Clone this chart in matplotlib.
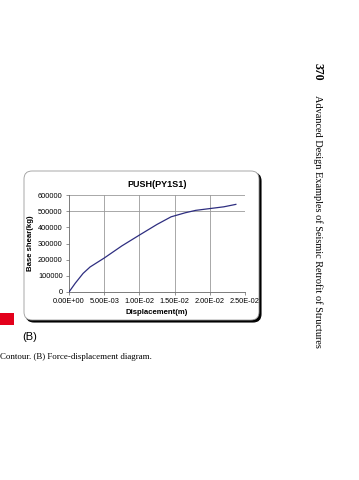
import matplotlib
matplotlib.use("Agg")
import matplotlib.pyplot as plt
from matplotlib.patches import FancyBboxPatch, Rectangle

# Data
disp = [0, 0.0009, 0.002, 0.003, 0.005, 0.0075, 0.010, 0.0125, 0.0145, 0.0165, 0.018, 0.020, 0.022, 0.0237]
shear = [0, 55000, 115000, 155000, 210000, 285000, 352000, 418000, 465000, 490000, 505000, 516000, 527000, 542000]
xticks = [0, 0.005, 0.010, 0.015, 0.020, 0.025]
xticklabels = ["0.00E+00", "5.00E-03", "1.00E-02", "1.50E-02", "2.00E-02", "2.50E-02"]
yticks = [0, 100000, 200000, 300000, 400000, 500000, 600000]
yticklabels = ["0", "100000", "200000", "300000", "400000", "500000", "600000"]
hgrid = [500000, 600000]

W, H = 359, 480
fig = plt.figure(figsize=(W / 100, H / 100), dpi=100)
sans = ["Liberation Sans", "DejaVu Sans"]
serif = ["Liberation Serif", "DejaVu Serif"]

# chart box with shadow (inches coordinates)
bx0, by_top, bx1, by_bot = 24, 171, 259, 320
shadow = FancyBboxPatch(((bx0 + 2) / 100, (H - by_bot - 2) / 100), (bx1 - bx0) / 100, (by_bot - by_top) / 100,
                        boxstyle="round,pad=0,rounding_size=0.08", transform=fig.dpi_scale_trans,
                        facecolor="black", edgecolor="black", linewidth=0.8, zorder=0)
box = FancyBboxPatch((bx0 / 100, (H - by_bot) / 100), (bx1 - bx0) / 100, (by_bot - by_top) / 100,
                     boxstyle="round,pad=0,rounding_size=0.08", transform=fig.dpi_scale_trans,
                     facecolor="white", edgecolor="#9a9a9a", linewidth=0.6, zorder=0.5)
fig.add_artist(shadow)
fig.add_artist(box)

# axes
left, right, bottom, top = 69, 245, 292, 195
ax = fig.add_axes([left / W, 1 - bottom / H, (right - left) / W, (bottom - top) / H])
ax.set_zorder(2)
ax.patch.set_alpha(0)
ax.set_xlim(0, 0.025)
ax.set_ylim(0, 600000)
for xv in xticks[1:]:
    ax.axvline(xv, color="#9a9a9a", lw=0.6, zorder=1)
for yv in hgrid:
    ax.axhline(yv, color="#9a9a9a", lw=0.6, zorder=1)
ax.plot(disp, shear, color="#2e2e80", lw=0.9, zorder=3)

ax.set_xticks(xticks)
ax.set_xticklabels(xticklabels, fontfamily=sans, fontsize=5.3)
ax.set_yticks(yticks)
ax.set_yticklabels(yticklabels, fontfamily=sans, fontsize=5.3)
ax.tick_params(axis="both", direction="out", length=2.5, width=0.5, color="#666666", pad=2)
for s in ["top", "right"]:
    ax.spines[s].set_visible(False)
for s in ["left", "bottom"]:
    ax.spines[s].set_color("#666666")
    ax.spines[s].set_linewidth(0.6)

ax.set_title("PUSH(PY1S1)", fontfamily=sans, fontsize=6.5, fontweight="bold", pad=6)
ax.set_xlabel("Displacement(m)", fontfamily=sans, fontsize=5.6, fontweight="bold", labelpad=3)
ax.set_ylabel("Base shear(kg)", fontfamily=sans, fontsize=5.6, fontweight="bold", labelpad=3)

# page elements
fig.add_artist(Rectangle((0, 1 - 325 / H), 14 / W, 12 / H, transform=fig.transFigure,
                         facecolor="#e3001b", edgecolor="none"))
fig.text(22 / W, 1 - 337 / H, "(B)", fontfamily=sans, fontsize=8, ha="left", va="center")
fig.text(0 / W, 1 - 357 / H, "Contour. (B) Force-displacement diagram.", fontfamily=serif,
         fontsize=6.4, ha="left", va="center")
fig.text(318 / W, 1 - 63 / H, "370", fontfamily=serif, fontsize=8.5, fontweight="bold",
         rotation=-90, ha="center", va="top")
fig.text(318 / W, 1 - 95 / H, "Advanced Design Examples of Seismic Retrofit of Structures",
         fontfamily=serif, fontsize=7.4, rotation=-90, ha="center", va="top")

fig.savefig("out.png", dpi=100)
